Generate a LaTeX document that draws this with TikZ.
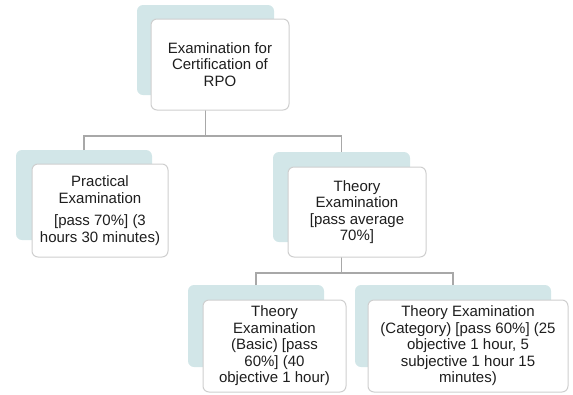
\documentclass[tikz,border=0pt]{standalone}
\usepackage{fontspec}
\setmainfont{Liberation Sans}
\definecolor{backteal}{HTML}{D2E6E8}
\definecolor{frameg}{HTML}{CFCFCF}
\definecolor{connline}{HTML}{A8A8A8}
\definecolor{txt}{HTML}{1E1E1E}
\tikzset{
  backbox/.style={fill=backteal, draw=none, rounded corners=6pt, inner sep=0pt, outer sep=0pt},
  frontbox/.style={fill=white, draw=frameg, line width=1pt, rounded corners=6pt, inner sep=2pt, outer sep=0pt,
    align=center, text=txt, font=\fontsize{15}{16.5}\selectfont},
  conn/.style={draw=connline, line width=1.3pt}
}
\begin{document}
\begin{tikzpicture}[x=1pt,y=-1pt]
\useasboundingbox (0,0) rectangle (573,394);
% back shapes
\node[backbox, minimum width=137pt, minimum height=90pt] (topback) at (205.5,50) {};
\node[backbox, minimum width=136pt, minimum height=90pt] (pracback) at (84,195) {};
\node[backbox, minimum width=137pt, minimum height=90pt] (theoback) at (341.5,197) {};
\node[backbox, minimum width=136pt, minimum height=82pt] (basback) at (256,326) {};
\node[backbox, minimum width=196pt, minimum height=82pt] (catback) at (453,326) {};
% connectors
\coordinate (bus1) at (topback.south |- 0,136);
\coordinate (bus2) at (theoback.south |- 0,273);
\draw[conn] (topback.south) -- (bus1);
\draw[conn] (pracback.north) |- (bus1) -| (theoback.north);
\draw[conn] (theoback.south) -- (bus2);
\draw[conn] (basback.north) |- (bus2) -| (catback.north);
% front shapes
\node[frontbox, minimum width=138pt, minimum height=91pt] (top) at (220,64.5)
  {Examination for\\Certification of\\RPO};
\node[frontbox, minimum width=136pt, minimum height=93pt] (prac) at (100,210.5)
  {Practical\\Examination\\[6pt][pass 70\%] (3\\hours 30 minutes)};
\node[frontbox, minimum width=138pt, minimum height=90pt] (theo) at (357,212)
  {Theory\\Examination\\{[pass average}\\70\%]};
\node[frontbox, minimum width=143pt, minimum height=92pt] (bas) at (274.5,346)
  {Theory\\Examination\\(Basic) [pass\\60\%] (40\\objective 1 hour)};
\node[frontbox, minimum width=200pt, minimum height=92pt] (cat) at (468,346)
  {Theory Examination\\(Category) [pass 60\%] (25\\objective 1 hour, 5\\subjective 1 hour 15\\minutes)};
\end{tikzpicture}
\end{document}
